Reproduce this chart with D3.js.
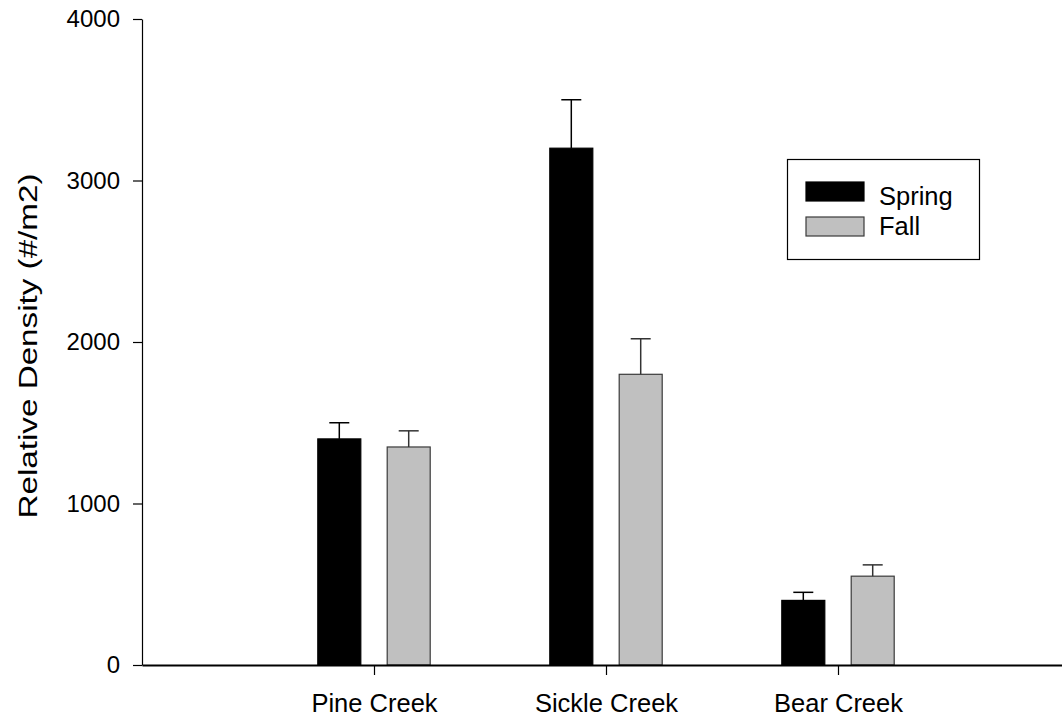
<!DOCTYPE html>
<html>
<head>
<meta charset="utf-8">
<script src="https://cdn.jsdelivr.net/npm/d3@7"></script>
<style>
  html, body { margin: 0; padding: 0; background: #fff; }
  svg { display: block; font-family: "Liberation Sans", Arial, sans-serif; }
</style>
</head>
<body>
<svg id="chart" width="1062" height="717"></svg>
<script>
// Site names and seasonal densities (#/m2), with the upper error (SE) for each bar
const categories = ["Pine Creek", "Sickle Creek", "Bear Creek"];
const springValues = [1400, 3200, 400];
const springErrors = [100, 300, 50];
const fallValues = [1350, 1800, 550];
const fallErrors = [100, 220, 70];
const yTicks = [0, 1000, 2000, 3000, 4000];
const seriesNames = ["Spring", "Fall"];
const seriesFill = ["#000000", "#c0c0c0"];
const seriesStroke = ["#000000", "#3a3a3a"];

const svg = d3.select("#chart");
const plotLeft = 142, plotTop = 19, plotBottom = 665;

// categories sit at positions 1..3 on a 0..4 linear axis
const x = d3.scaleLinear().domain([0, 4]).range([plotLeft, 1070]);
const y = d3.scaleLinear().domain([0, 4000]).range([plotBottom, plotTop]);

const barW = 43;
const offset = 34.7;
const series = [
  { name: seriesNames[0], values: springValues, errors: springErrors, dx: -offset },
  { name: seriesNames[1], values: fallValues, errors: fallErrors, dx: offset }
];

// bars with upper error bars
series.forEach((s, si) => {
  const g = svg.append("g");
  g.selectAll("rect")
    .data(s.values)
    .join("rect")
    .attr("x", (d, i) => x(i + 1) + s.dx - barW / 2)
    .attr("y", d => y(d))
    .attr("width", barW)
    .attr("height", d => y(0) - y(d))
    .attr("fill", seriesFill[si])
    .attr("stroke", seriesStroke[si])
    .attr("stroke-width", 1.2);

  const eg = svg.append("g").attr("stroke", si === 0 ? "#000" : "#333").attr("stroke-width", 1.5);
  s.values.forEach((v, i) => {
    const cx = x(i + 1) + s.dx;
    eg.append("line")
      .attr("x1", cx).attr("x2", cx)
      .attr("y1", y(v)).attr("y2", y(v + s.errors[i]));
    eg.append("line")
      .attr("x1", cx - 10).attr("x2", cx + 10)
      .attr("y1", y(v + s.errors[i])).attr("y2", y(v + s.errors[i]));
  });
});

// y axis
const yAxis = svg.append("g")
  .attr("transform", `translate(${plotLeft},0)`)
  .call(d3.axisLeft(y).tickValues(yTicks).tickSize(9).tickSizeOuter(0).tickPadding(13).tickFormat(d3.format("d")));
yAxis.select(".domain").attr("stroke", "#000").attr("stroke-width", 1.2);
yAxis.selectAll(".tick line").attr("stroke", "#000").attr("stroke-width", 1.2);
yAxis.selectAll(".tick text").attr("font-size", 24).attr("fill", "#000")
  .attr("font-family", "Liberation Sans, Arial, sans-serif");

// x axis
const xAxis = svg.append("g")
  .attr("transform", `translate(0,${plotBottom})`)
  .call(d3.axisBottom(x).tickValues([1, 2, 3]).tickSize(10).tickSizeOuter(0).tickPadding(19)
    .tickFormat(d => categories[d - 1]));
xAxis.select(".domain").attr("stroke", "#000").attr("stroke-width", 2);
xAxis.selectAll(".tick line").attr("stroke", "#000").attr("stroke-width", 1.2);
xAxis.selectAll(".tick text").attr("font-size", 25.5).attr("fill", "#000")
  .attr("font-family", "Liberation Sans, Arial, sans-serif");

// y axis title
svg.append("text")
  .attr("transform", `translate(37,346) rotate(-90)`)
  .attr("text-anchor", "middle")
  .attr("font-size", 25)
  .attr("textLength", 345)
  .attr("lengthAdjust", "spacingAndGlyphs")
  .text("Relative Density (#/m2)");

// legend
const lg = svg.append("g");
lg.append("rect")
  .attr("x", 787.5).attr("y", 159.5).attr("width", 192).attr("height", 100)
  .attr("fill", "#fff").attr("stroke", "#000").attr("stroke-width", 1.2);
const legendRows = [{ sy: 182, ty: 205 }, { sy: 217, ty: 235 }];
seriesNames.forEach((n, i) => {
  lg.append("rect")
    .attr("x", 806).attr("y", legendRows[i].sy).attr("width", 58).attr("height", 19)
    .attr("fill", seriesFill[i]).attr("stroke", seriesStroke[i]).attr("stroke-width", 1.2);
  lg.append("text")
    .attr("x", 879).attr("y", legendRows[i].ty)
    .attr("font-size", 25.5)
    .text(n);
});
</script>
</body>
</html>
